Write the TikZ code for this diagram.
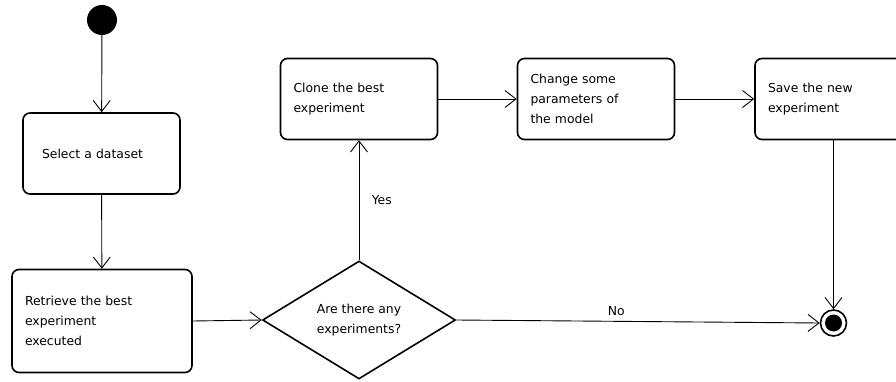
\documentclass[tikz,border=0pt]{standalone}
\usepackage{fontspec}
\setmainfont{DejaVu Sans}
\usetikzlibrary{arrows.meta}
\usetikzlibrary{positioning}
\usetikzlibrary{shapes.geometric}

\tikzset{
  activity/.style={draw, rounded corners=7pt, line width=1.6pt, align=left,
    inner xsep=13pt, text width=131pt, minimum height=81pt, font=\fontsize{12.4}{20}\selectfont},
  decision/.style={draw, diamond, line width=1.6pt, align=center, inner sep=0pt,
    minimum width=193pt, minimum height=118pt, font=\fontsize{12.4}{20}\selectfont},
  initial/.style={circle, fill=black, minimum size=30pt, inner sep=0pt},
  final/.style={circle, draw, line width=1.6pt, minimum size=26pt, inner sep=0pt,
    path picture={\fill (path picture bounding box.center) circle (8.5pt);}},
  flow/.style={line width=0.9pt, -{Straight Barb[length=11pt,width=17pt,line width=0.9pt]}},
  guard/.style={font=\fontsize{12.4}{14}\selectfont},
}

\begin{document}
\begin{tikzpicture}[x=1pt, y=1pt]
  \useasboundingbox (0,0) rectangle (896,-382);

  % left column
  \node[initial] (start) at (102,-20) {};
  \node[activity] (select) at (101.5,-153.5) {\hspace*{6pt}Select a dataset};
  \node[activity, text width=154pt, minimum height=103pt] (retrieve) at (102,-321)
    {Retrieve the best\\experiment\\executed};

  % decision
  \node[decision] (any) at (359,-320) {Are there any\\experiments?};

  % top row
  \node[activity] (clone) at (359,-99) {Clone the best\\experiment};
  \node[activity] (change) at (596,-99) {Change some\\parameters of\\the model};
  \node[activity] (save) at (833.5,-99) {Save the new\\experiment};

  \node[final] (end) at (833.5,-323) {};

  \draw[flow] (start) -- (select);
  \draw[flow] (select) -- (retrieve);
  \draw[flow] (retrieve.east) -- (any.west);
  \draw[flow] (any.north) -- (clone.south)
    node[guard, pos=0.5, right=9pt] {Yes};
  \draw[flow] (any.east) -- (end.west)
    node[guard, pos=0.44, above=2pt] {No};
  \draw[flow] (clone) -- (change);
  \draw[flow] (change) -- (save);
  \draw[flow] (save) -- (end);
\end{tikzpicture}
\end{document}
